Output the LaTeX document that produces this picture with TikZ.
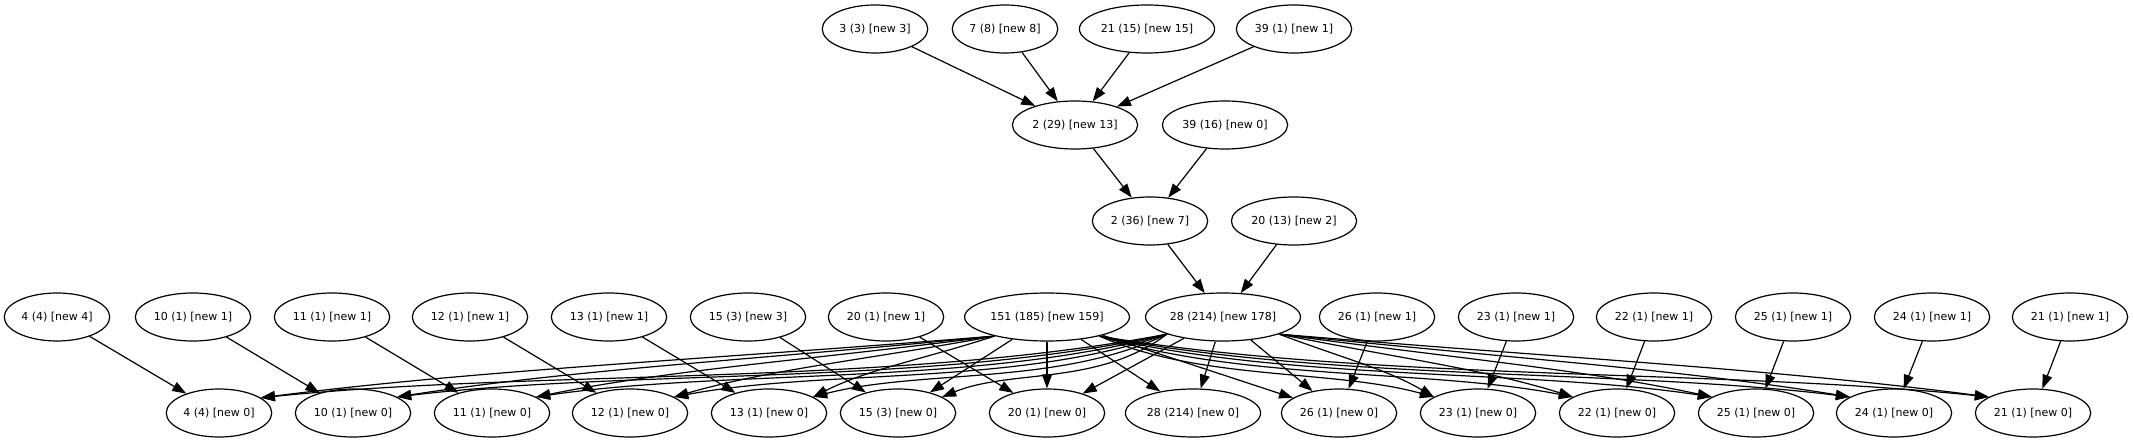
\documentclass[tikz,border=0pt]{standalone}
\usepackage{fontspec}
\setmainfont{DejaVu Sans}
\usetikzlibrary{shapes.geometric,arrows.meta}
\tikzset{
  gv/.style={ellipse,draw,line width=1.2pt,inner xsep=1.6pt,inner ysep=0pt,minimum height=48pt},
  edge/.style={line width=1.2pt,-{Triangle[length=14pt,width=10pt]}}
}
\begin{document}
\begin{tikzpicture}[x=1pt,y=1pt,font=\fontsize{11}{13}\selectfont]
\useasboundingbox (0,0) rectangle (2133,-443);
% chain at the top
\node[gv] (a3) at (875,-29) {3 (3) [new 3]};
\node[gv] (a7) at (1005,-29) {7 (8) [new 8]};
\node[gv] (a21) at (1147,-29) {21 (15) [new 15]};
\node[gv] (a39) at (1294,-29) {39 (1) [new 1]};
\node[gv] (b2) at (1075,-125) {2 (29) [new 13]};
\node[gv] (b39) at (1225,-125) {39 (16) [new 0]};
\node[gv] (c2) at (1150,-221) {2 (36) [new 7]};
\node[gv] (c20) at (1294,-221) {20 (13) [new 2]};
% upper row
\node[gv] (u4) at (57,-317) {4 (4) [new 4]};
\node[gv] (u10) at (193,-317) {10 (1) [new 1]};
\node[gv] (u11) at (332,-317) {11 (1) [new 1]};
\node[gv] (u12) at (470,-317) {12 (1) [new 1]};
\node[gv] (u13) at (609,-317) {13 (1) [new 1]};
\node[gv] (u15) at (748,-317) {15 (3) [new 3]};
\node[gv] (u20) at (886,-317) {20 (1) [new 1]};
\node[gv] (u151) at (1047,-317) {151 (185) [new 159]};
\node[gv] (u28) at (1223,-317) {28 (214) [new 178]};
\node[gv] (u26) at (1377,-317) {26 (1) [new 1]};
\node[gv] (u23) at (1516,-317) {23 (1) [new 1]};
\node[gv] (u22) at (1654,-317) {22 (1) [new 1]};
\node[gv] (u25) at (1793,-317) {25 (1) [new 1]};
\node[gv] (u24) at (1932,-317) {24 (1) [new 1]};
\node[gv] (u21) at (2070,-317) {21 (1) [new 1]};
% lower row
\node[gv] (v4) at (219,-413) {4 (4) [new 0]};
\node[gv] (v10) at (353,-413) {10 (1) [new 0]};
\node[gv] (v11) at (492,-413) {11 (1) [new 0]};
\node[gv] (v12) at (630,-413) {12 (1) [new 0]};
\node[gv] (v13) at (769,-413) {13 (1) [new 0]};
\node[gv] (v15) at (898,-413) {15 (3) [new 0]};
\node[gv] (v20) at (1047,-413) {20 (1) [new 0]};
\node[gv] (v28) at (1193,-413) {28 (214) [new 0]};
\node[gv] (v26) at (1339,-413) {26 (1) [new 0]};
\node[gv] (v23) at (1478,-413) {23 (1) [new 0]};
\node[gv] (v22) at (1617,-413) {22 (1) [new 0]};
\node[gv] (v25) at (1756,-413) {25 (1) [new 0]};
\node[gv] (v24) at (1894,-413) {24 (1) [new 0]};
\node[gv] (v21) at (2033,-413) {21 (1) [new 0]};
% edges
\foreach \s in {a3,a7,a21,a39} \draw[edge] (\s) -- (b2);
\draw[edge] (b2) -- (c2);
\draw[edge] (b39) -- (c2);
\draw[edge] (c2) -- (u28);
\draw[edge] (c20) -- (u28);
\foreach \n in {4,10,11,12,13,15,20,26,23,22,25,24,21} \draw[edge] (u\n) -- (v\n);
\foreach \t in {v15,v20,v28,v26} \draw[edge] (u151) -- (\t);
\foreach \t in {v20,v28,v26} \draw[edge] (u28) -- (\t);
\foreach \t/\d in {v4/-735,v10/-601,v11/-462,v12/-324,v13/-185}
  \draw[edge] (u151.200) .. controls +({0.4*\d},-24) and +({-0.3*\d},28) .. (\t.20);
\foreach \t/\d in {v23/338,v22/477,v25/616,v24/754,v21/893}
  \draw[edge] (u151.340) .. controls +({0.3*\d},-45) and +({-0.3*\d},28) .. (\t.160);
\foreach \t/\d in {v4/-908,v10/-774,v11/-635,v12/-497,v13/-358,v15/-229}
  \draw[edge] (u28.197) .. controls +({0.3*\d},-52) and +({-0.3*\d},28) .. (\t.20);
\foreach \t/\d in {v23/159,v22/298,v25/437,v24/575,v21/714}
  \draw[edge] (u28.343) .. controls +({0.4*\d},-24) and +({-0.3*\d},28) .. (\t.160);
\end{tikzpicture}
\end{document}
